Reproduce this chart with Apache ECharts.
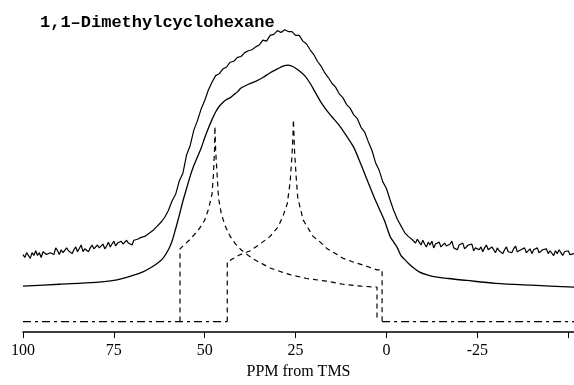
<!DOCTYPE html>
<html><head><meta charset="utf-8">
<script src="https://cdn.jsdelivr.net/npm/echarts@6/dist/echarts.min.js"></script>
<style>html,body{margin:0;padding:0;background:#fff}#c{width:574px;height:385px}</style>
</head><body><div id="c"></div>
<script>
// x: chemical shift (ppm from TMS), y: intensity (arbitrary units)
const titleText = "1,1–Dimethylcyclohexane";
const axisTitle = "PPM from TMS";
const tickValues = [100, 75, 50, 25, 0, -25, -50];
const labelValues = [100, 75, 50, 25, 0, -25];

// experimental (noisy) spectrum
const experimental = [
[100,81],[99.5,78],[99,83],[98.5,80],[98,77],[97.5,83],[97,80],[96.5,85],[96,80],[95.5,83],
[95,78],[94.5,84],[94,85],[93.5,81],[93,79],[92.5,83],[92,85],[91.5,81],[91,88],[90.5,85],
[90,81],[89.5,86],[89,83],[88.5,81],[88,88],[87.5,85],[87,87],[86.5,82],[86,86],[85.5,89],
[85,84],[84.5,85],[84,91],[83.5,84],[83,87],[82.5,89],[82,84],[81.5,88],[81,91],[80.5,87],
[80,86],[79.5,91],[79,88],[78.5,90],[78,92],[77.5,87],[77,90],[76.5,94],[76,89],[75.5,92],
[75,95],[74.5,90],[74,93],[73.5,91],[73,95],[72.5,92],[72,90],[71.5,96],[71,93],[70.5,95],
[70,91],[69.5,96],[69,94],[68.5,97],[68,95],[67.5,99],[67,97],[66.5,100],[66,99],
[65,104],[64,107],[63,111],[62,115],[61,120],[60,127],
[59,137],[58,144],[57,158],[56,166],[55,185],[54,195],[53,211],[52,221],[51,233],[50,242],
[49,253],[48,261],[47,268],[46,270],[45,275],[44,277],[43,282],[42,283],[41,287],[40,288],
[39,292],[38,294],[37,295],[36,298],[35,300],[34,305],[33,304],[32,310],[31,311],[30,315],
[29,313],[28,316],[27,314],[26,314],[25,310],[24,310],[23,304],[22,301],[21,295],[20,290],
[19,283],[18,278],[17,271],[16,266],[15,260],[14,256],[13,249],[12,245],[11,238],[10,234],
[9,227],[8,223],[7,214],[6,209],[5,199],[4,190],[3,177],[2,169],[1,157],[0,150],
[-1,138],[-2,127],[-3,118],[-4,111],[-5,104],[-6,100],[-7,97],
[-8,93],[-8.5,97],[-9,94],[-9.5,91],[-10,96],[-10.5,92],[-11,89],[-11.5,94],[-12,91],[-12.5,95],
[-13,88],[-13.5,92],[-14,90],[-14.5,94],[-15,89],[-15.5,87],[-16,93],[-16.5,90],[-17,88],[-17.5,92],
[-18,95],[-18.5,88],[-19,90],[-19.5,86],[-20,91],[-20.5,89],[-21,93],[-21.5,87],[-22,86],[-22.5,91],
[-23,89],[-23.5,92],[-24,85],[-24.5,88],[-25,90],[-25.5,86],[-26,89],[-26.5,84],[-27,88],[-27.5,91],
[-28,86],[-28.5,84],[-29,89],[-29.5,86],[-30,83],[-30.5,88],[-31,85],[-31.5,87],[-32,82],[-32.5,86],
[-33,89],[-33.5,84],[-34,86],[-34.5,83],[-35,87],[-35.5,90],[-36,84],[-36.5,82],[-37,86],[-37.5,84],
[-38,88],[-38.5,83],[-39,85],[-39.5,87],[-40,82],[-40.5,86],[-41,84],[-41.5,88],[-42,83],[-42.5,81],
[-43,86],[-43.5,84],[-44,87],[-44.5,82],[-45,85],[-45.5,83],[-46,80],[-46.5,85],[-47,82],[-47.5,86],
[-48,83],[-48.5,80],[-49,84],[-49.5,82],[-50,85],[-50.5,81],[-51,83],[-51.6,82]
];

// simulated (total) spectrum
const simulated = [
[100,48],[90,50],[80,52],[75,54],[70,59],[67,63],[65,67],[63,72],[61.5,77],[60,86],
[59,95],[58,108],[57,122],[56,137],[55,150],[54,163],[53,174],[52,183],[51,192],[50,203],
[49,213],[48,222],[47,230],[46,236],[45,240],[44,243],[43,245],[42,248],[41,251],[40,255],
[38,259],[36,262],[34,266],[32,271],[30,275],[28.5,278],[27,279],[25.5,277],[24,273],[22.5,268],
[21,260],[19.5,250],[18,240],[16.5,232],[15,225],[13,216],[11,205],[9,193],[7,175],[5,156],
[3.5,142],[2,129],[0.5,116],[-1,100],[-2,94],[-3,88],[-4,80],[-5,76],[-6,72],[-7.5,67],
[-9,63],[-11,60],[-13,58],[-17,56],[-22,54],[-30,51],[-40,49],[-51.6,47]
];

// component powder pattern 1
const component1 = [
[56.8,11],[56.8,87],[54,97],[51.5,108],[50,117],[49,128],[48,144],[47.6,165],[47.3,190],[47.2,215],
[47.0,190],[46.6,165],[46.2,140],[45.5,125],[44.5,112],[43,100],[41.5,92],[40,86],[38,80],[36,75],
[34,71],[32,67],[29,63],[26.5,60],[22,56],[16,53],[12,50],[7,48],[2.6,47],[2.6,11]
];

// component powder pattern 2
const component2 = [
[43.8,11],[43.8,74],[43,75],[40.8,80],[37.5,85],[34.8,92],[32,100],[29.8,110],[28.4,122],[27.3,134],
[26.5,157],[26,184],[25.7,207],[25.6,222],[25.3,190],[24.8,160],[24.4,140],[22.9,117],[20.2,100],[18.2,94],
[16.3,87],[14,82],[11.9,77],[9,73],[6.4,70],[2.6,65],[1.2,65],[1.2,11]
];

// common baseline of the components
const baselineLeft = [[100,11],[43.8,11]];
const baselineRight = [[1.2,11],[-51.6,11]];

const chart = echarts.init(document.getElementById('c'), null, {renderer:'canvas'});
const dashed = (data, type) => ({
  type:'line', data, showSymbol:false, symbol:'none', animation:false, silent:true,
  lineStyle:{color:'#000', width:1.2, type}
});
chart.setOption({
  animation:false,
  backgroundColor:'#fff',
  title:{
    text:titleText, left:35, top:9,
    textStyle:{fontFamily:'Liberation Mono', fontWeight:'bold', fontSize:17, color:'#000'}
  },
  grid:{left:23, right:0, top:0, bottom:38},
  xAxis:{
    type:'value', inverse:true, min:-51.6, max:100,
    name:axisTitle, nameLocation:'middle', nameGap:24,
    nameTextStyle:{fontFamily:'Liberation Serif', fontSize:16, color:'#000'},
    axisLine:{show:true, lineStyle:{color:'#000', width:1.5}},
    axisTick:{show:true, inside:false, length:6, lineStyle:{color:'#000', width:1}, customValues:tickValues},
    axisLabel:{fontFamily:'Liberation Serif', fontSize:16, color:'#000', margin:11, customValues:labelValues},
    splitLine:{show:false}
  },
  yAxis:{type:'value', min:0, max:347, show:false, splitLine:{show:false}},
  series:[
    {type:'line', data:experimental, showSymbol:false, symbol:'none', animation:false,
     lineStyle:{color:'#000', width:1.2}},
    {type:'line', data:simulated, showSymbol:false, symbol:'none', smooth:0.3, animation:false,
     lineStyle:{color:'#000', width:1.3}},
    dashed(component1, [5,4]),
    dashed(component2, [5,4]),
    dashed(baselineLeft, [8,4,3,4]),
    dashed(baselineRight, [8,4,3,4])
  ]
});
</script></body></html>
